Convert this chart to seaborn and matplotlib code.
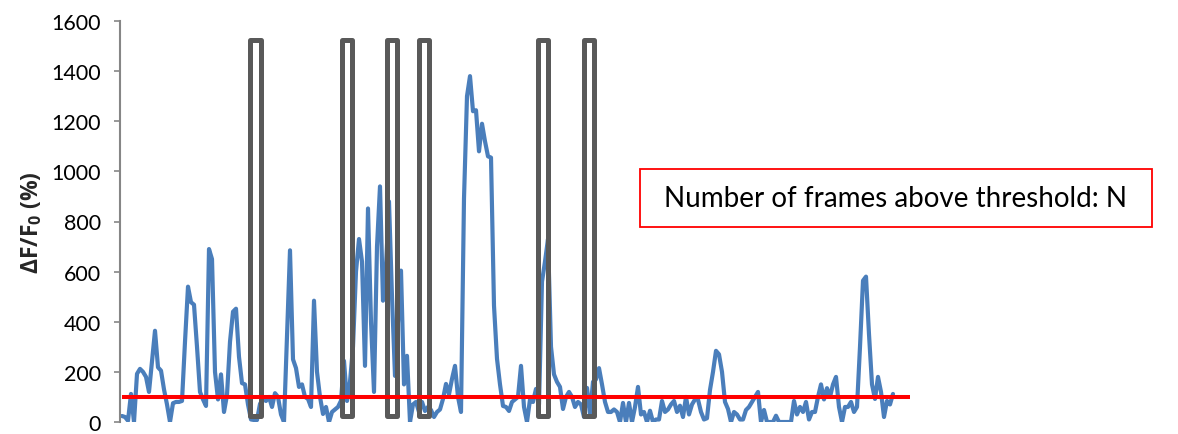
import matplotlib
matplotlib.use("Agg")
import matplotlib.pyplot as plt
from matplotlib.patches import Rectangle
import numpy as np
import pandas as pd
import seaborn as sns

# dF/F0 trace (%), one value per imaging frame
dff = [
    24, 20, 5, 112, 0, 192, 212, 200, 180, 120,
    240, 364, 218, 205, 130, 70, 0, 75, 80, 80,
    84, 320, 540, 478, 468, 300, 120, 90, 64, 690,
    650, 200, 90, 190, 40, 108, 320, 440, 452, 260,
    155, 150, 70, 10, 8, 8, 72, 92, 84, 100,
    60, 115, 100, 30, 0, 340, 685, 250, 215, 140,
    150, 100, 92, 60, 484, 200, 100, 32, 60, 0,
    40, 50, 60, 85, 244, 84, 160, 300, 600, 730,
    640, 224, 852, 400, 120, 700, 940, 484, 620, 880,
    500, 184, 400, 604, 150, 264, 0, 70, 80, 40,
    80, 44, 60, 48, 20, 40, 50, 92, 152, 110,
    172, 224, 100, 40, 892, 1300, 1380, 1240, 1244, 1080,
    1190, 1120, 1060, 1055, 464, 252, 150, 64, 60, 44,
    80, 90, 100, 224, 60, 0, 90, 80, 132, 70,
    560, 640, 730, 300, 190, 160, 140, 52, 100, 120,
    100, 60, 80, 70, 20, 136, 30, 160, 170, 215,
    150, 80, 40, 40, 50, 40, 0, 76, 0, 76,
    0, 60, 140, 30, 40, 0, 45, 0, 10, 10,
    84, 40, 50, 70, 84, 40, 65, 20, 100, 30,
    70, 90, 90, 40, 10, 15, 128, 200, 284, 270,
    200, 80, 52, 0, 40, 30, 10, 10, 48, 60,
    80, 100, 120, 0, 48, 0, 0, 0, 25, 0,
    0, 0, 0, 0, 84, 30, 60, 40, 80, 10,
    40, 40, 100, 150, 90, 135, 100, 150, 180, 60,
    0, 60, 60, 80, 40, 60, 300, 564, 580, 350,
    150, 92, 180, 120, 20, 84, 70, 112,
]
frames = np.arange(len(dff))

# detection threshold (%) and the span of frames it is drawn over
threshold = 100
threshold_frames = 262.7

# centre frames of the highlighted event windows
event_frames = [44.5, 74.9, 89.9, 100.6, 140.3, 155.6]
event_range = (25, 1525)

y_ticks = [0, 200, 400, 600, 800, 1000, 1200, 1400, 1600]
box_text = "Number of frames above threshold: N"

sns.set_style("white")
plt.rcParams["font.family"] = ["Lato", "DejaVu Sans"]
plt.rcParams["mathtext.fontset"] = "custom"
plt.rcParams["mathtext.bf"] = "Open Sans:bold"
plt.rcParams["mathtext.rm"] = "Open Sans:bold"

W, H = 1178, 435
fig = plt.figure(figsize=(W / 100, H / 100), dpi=100)
ax_left, ax_right, ax_top, ax_bottom = 119.5, 1160, 22, 423
ax = fig.add_axes([ax_left / W, (H - ax_bottom) / H,
                   (ax_right - ax_left) / W, (ax_bottom - ax_top) / H])

df = pd.DataFrame({"frame": frames, "dff": dff})
sns.lineplot(data=df, x="frame", y="dff", ax=ax, color="#4A7EBB",
             linewidth=3.0, solid_joinstyle="round", solid_capstyle="round",
             zorder=2)

win = 3.35
for c in event_frames:
    ax.add_patch(Rectangle((c - win / 2, event_range[0]), win,
                           event_range[1] - event_range[0],
                           fill=False, edgecolor="#595959", linewidth=3.6,
                           joinstyle="round", zorder=3))

ax.hlines(threshold, 0, threshold_frames, color="#FF0000", linewidth=2.9,
          zorder=4)

px_per_frame = 3.0
ax.set_xlim((ax_left - 122) / px_per_frame, (ax_right - 122) / px_per_frame)
ax.set_ylim(0, 1600)
ax.set_yticks(y_ticks)
ax.set_yticklabels([str(t) for t in y_ticks], fontsize=15.5, color="#000000")
ax.set_xticks([])
ax.set_xlabel("")
ax.set_ylabel(r"ΔF/F$_\mathbf{0}$ (%)", fontsize=16.5, fontweight="bold",
              family=["Open Sans", "DejaVu Sans"], labelpad=5)

for side in ("top", "right", "bottom"):
    ax.spines[side].set_visible(False)
ax.spines["left"].set_color("#868686")
ax.spines["left"].set_linewidth(1.5)
ax.tick_params(axis="y", direction="out", length=4.5, width=1.2,
               color="#868686", pad=9, left=True)

# annotation box
bx0, bx1, by0, by1 = 640, 1152, 170, 228
fig.add_artist(Rectangle((bx0 / W, (H - by1) / H), (bx1 - bx0) / W,
                         (by1 - by0) / H, transform=fig.transFigure,
                         fill=False, edgecolor="#FF0000", linewidth=1.3))
fig.text((bx0 + bx1) / 2 / W, (H - (by0 + by1) / 2) / H, box_text,
         ha="center", va="center", fontsize=20, color="#000000")

fig.savefig("out.png", dpi=100)
